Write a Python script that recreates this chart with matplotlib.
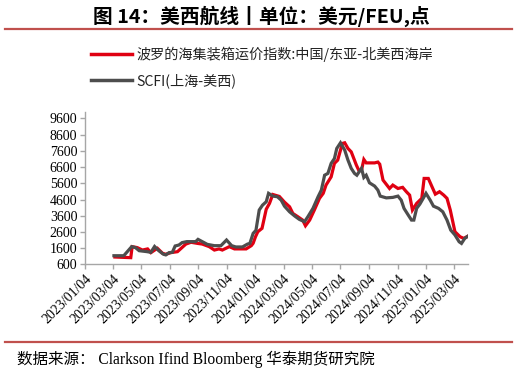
import matplotlib
matplotlib.use("Agg")
import matplotlib.pyplot as plt
import matplotlib.dates as mdates
from matplotlib.lines import Line2D
import pandas as pd

# 波罗的海集装箱运价指数:中国/东亚-北美西海岸
BCI_DATES = [
    "2023-03-09", "2023-04-12", "2023-04-15", "2023-04-26", "2023-05-07", "2023-05-18",
    "2023-05-25", "2023-06-08", "2023-06-19", "2023-06-26", "2023-07-07", "2023-07-21",
    "2023-08-08", "2023-08-19", "2023-09-02", "2023-09-12", "2023-09-27", "2023-10-08",
    "2023-10-18", "2023-10-25", "2023-11-09", "2023-11-20", "2023-12-15", "2023-12-26",
    "2023-12-30", "2024-01-04", "2024-01-09", "2024-01-18", "2024-01-27", "2024-02-03",
    "2024-02-10", "2024-02-24", "2024-03-06", "2024-03-17", "2024-03-24", "2024-04-04",
    "2024-04-14", "2024-04-20", "2024-04-29", "2024-05-09", "2024-05-20", "2024-05-28",
    "2024-06-03", "2024-06-14", "2024-06-21", "2024-06-28", "2024-07-08", "2024-07-13",
    "2024-07-20", "2024-07-27", "2024-08-07", "2024-08-12", "2024-08-18", "2024-08-23",
    "2024-08-28", "2024-09-15", "2024-09-22", "2024-09-26", "2024-10-03", "2024-10-17",
    "2024-10-24", "2024-11-04", "2024-11-14", "2024-11-22", "2024-11-29", "2024-12-05",
    "2024-12-14", "2024-12-25", "2024-12-30", "2025-01-08", "2025-01-16", "2025-01-23",
    "2025-02-01", "2025-02-10", "2025-02-17", "2025-02-24", "2025-03-06", "2025-03-17",
    "2025-03-25", "2025-04-03",
]
BCI_VALUES = [
    1050, 1010, 1690, 1630, 1480, 1550,
    1320, 1590, 1280, 1220, 1320, 1380,
    1850, 1960, 1890, 1850, 1690, 1480,
    1550, 1480, 1690, 1550, 1550, 1750,
    1900, 2300, 2610, 2820, 4000, 4360,
    4910, 4790, 4440, 4150, 3740, 3530,
    3330, 2980, 3330, 3950, 4670, 4980,
    5490, 6000, 6830, 7030, 8060, 8100,
    7750, 7540, 6720, 6410, 6410, 7070,
    6860, 6860, 6910, 6780, 5800, 5280,
    5490, 5280, 5350, 5080, 4870, 3950,
    4360, 4670, 5900, 5900, 5380, 4930,
    5080, 4870, 4670, 3950, 2610, 2300,
    2200, 2340,
]

# SCFI(上海-美西)
SCFI_DATES = [
    "2023-03-07", "2023-03-28", "2023-04-14", "2023-04-22", "2023-04-30", "2023-05-17",
    "2023-05-25", "2023-06-02", "2023-06-11", "2023-06-21", "2023-06-26", "2023-07-03",
    "2023-07-10", "2023-07-16", "2023-07-24", "2023-07-31", "2023-08-10", "2023-08-29",
    "2023-09-03", "2023-09-12", "2023-09-23", "2023-10-08", "2023-10-22", "2023-11-03",
    "2023-11-14", "2023-11-23", "2023-12-07", "2023-12-18", "2023-12-23", "2023-12-30",
    "2024-01-05", "2024-01-12", "2024-01-19", "2024-01-27", "2024-02-01", "2024-02-10",
    "2024-02-20", "2024-02-28", "2024-03-06", "2024-03-17", "2024-03-28", "2024-04-07",
    "2024-04-18", "2024-04-25", "2024-05-06", "2024-05-17", "2024-05-24", "2024-05-31",
    "2024-06-07", "2024-06-14", "2024-06-21", "2024-06-26", "2024-07-04", "2024-07-13",
    "2024-07-20", "2024-07-27", "2024-08-03", "2024-08-08", "2024-08-18", "2024-08-23",
    "2024-08-28", "2024-09-04", "2024-09-15", "2024-09-22", "2024-09-27", "2024-10-10",
    "2024-10-24", "2024-11-04", "2024-11-11", "2024-11-17", "2024-11-26", "2024-12-03",
    "2024-12-08", "2024-12-14", "2024-12-21", "2024-12-28", "2025-01-03", "2025-01-12",
    "2025-01-19", "2025-01-30", "2025-02-08", "2025-02-17", "2025-02-25", "2025-03-06",
    "2025-03-15", "2025-03-20", "2025-03-27", "2025-04-03",
]
SCFI_VALUES = [
    1130, 1130, 1690, 1630, 1440, 1380,
    1340, 1700, 1440, 1220, 1180, 1320,
    1340, 1730, 1790, 1940, 2000, 2000,
    2140, 2000, 1830, 1750, 1750, 2100,
    1750, 1670, 1670, 1850, 1890, 2510,
    2700, 3950, 4250, 4460, 4980, 4810,
    4770, 4560, 4190, 3840, 3580, 3370,
    3230, 3530, 4050, 4770, 5180, 6100,
    6210, 6830, 7130, 7750, 8100, 7650,
    7030, 6520, 6210, 6100, 6520, 5960,
    6100, 5630, 5430, 5180, 4810, 4700,
    4730, 4810, 4560, 4050, 3640, 3330,
    3330, 4050, 4320, 4670, 4980, 4560,
    4190, 4050, 3840, 3330, 2710, 2410,
    1990, 1890, 2200, 2340,
]

Y_TICKS = list(range(600, 9601, 1000))
X_TICKS = pd.date_range("2023-01-01", "2025-03-01", freq="2MS") + pd.Timedelta(days=3)

TITLE = "图 14：美西航线丨单位：美元/FEU,点"
SOURCE = "数据来源： Clarkson Ifind Bloomberg 华泰期货研究院"
LABEL_BCI = "波罗的海集装箱运价指数:中国/东亚-北美西海岸"
LABEL_SCFI = "SCFI(上海-美西)"

RED = "#E00012"
GRAY = "#4D4D4D"
RULE = "#C0504D"
AXIS = "#A6A6A6"

SERIF = ["Liberation Serif", "Noto Sans CJK SC"]
CJK = ["Noto Sans CJK SC", "DejaVu Sans"]


def main():
    fig = plt.figure(figsize=(5.22, 3.73), dpi=100)
    ax = fig.add_axes([0.1628, 0.2914, 0.7338, 0.4083])

    ax.plot(pd.to_datetime(BCI_DATES), BCI_VALUES, color=RED, lw=2.3,
            solid_joinstyle="miter")
    ax.plot(pd.to_datetime(SCFI_DATES), SCFI_VALUES, color=GRAY, lw=2.3,
            solid_joinstyle="miter")

    ax.set_ylim(600, 10000)
    ax.set_yticks(Y_TICKS)
    ax.set_xlim(pd.Timestamp("2023-01-04"), pd.Timestamp("2025-04-03"))
    ax.set_xticks(X_TICKS)
    ax.xaxis.set_major_formatter(mdates.DateFormatter("%Y/%m/%d"))

    for side in ["top", "right"]:
        ax.spines[side].set_visible(False)
    for side in ["left", "bottom"]:
        ax.spines[side].set_color(AXIS)
        ax.spines[side].set_linewidth(1.0)
    ax.tick_params(axis="both", colors=AXIS, length=3.5, width=1.0, pad=2)
    for lab in ax.get_yticklabels():
        lab.set_family(SERIF)
        lab.set_fontsize(10)
        lab.set_color("black")
    for lab in ax.get_xticklabels():
        lab.set_family(SERIF)
        lab.set_fontsize(10)
        lab.set_color("black")
        lab.set_rotation(45)
        lab.set_ha("right")
        lab.set_va("top")
        lab.set_rotation_mode("anchor")

    fig.text(0.5, 0.957, TITLE, ha="center", va="center", fontsize=14.2,
             fontweight="bold", family=CJK)
    fig.add_artist(Line2D([0.01, 0.981], [0.922, 0.922], color=RULE, lw=1.6))
    fig.add_artist(Line2D([0.01, 0.981], [0.084, 0.084], color=RULE, lw=1.6))
    fig.text(0.033, 0.038, SOURCE, ha="left", va="center", fontsize=11.2,
             family=SERIF)

    handles = [
        Line2D([], [], color=RED, lw=2.5),
        Line2D([], [], color=GRAY, lw=2.5),
    ]
    leg = fig.legend(handles, [LABEL_BCI, LABEL_SCFI], loc="upper left",
                     bbox_to_anchor=(0.175, 0.876), frameon=False,
                     prop={"family": CJK, "size": 10.2}, handlelength=2.9,
                     handletextpad=0.3, labelspacing=0.85, borderpad=0,
                     borderaxespad=0)
    for t in leg.get_texts():
        t.set_color("#222222")

    fig.savefig("out.png", dpi=100)
    plt.close(fig)


if __name__ == "__main__":
    main()
